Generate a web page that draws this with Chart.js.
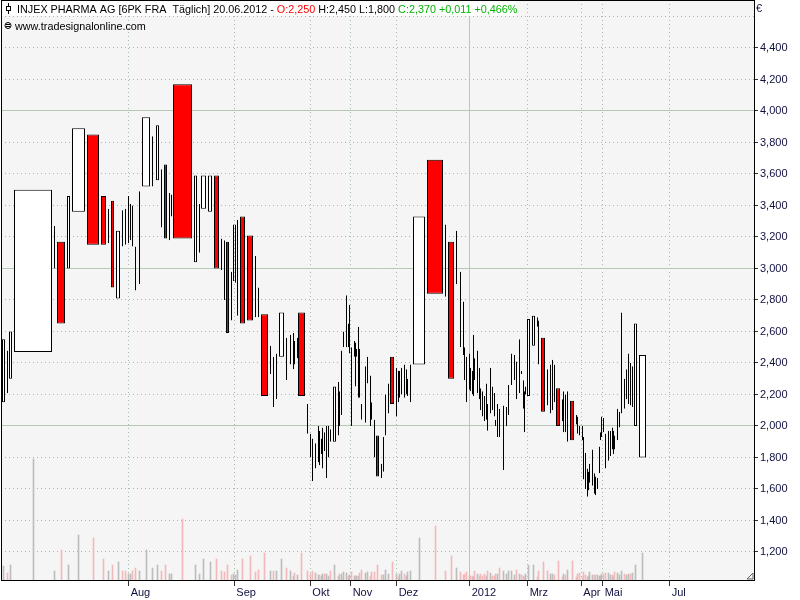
<!DOCTYPE html>
<html><head><meta charset="utf-8">
<script src="https://cdn.jsdelivr.net/npm/chart.js@4/dist/chart.umd.min.js"></script>
<style>html,body{margin:0;padding:0;background:#fff}canvas{display:block}</style>
</head><body>
<canvas id="c" width="800" height="600"></canvas>
<script>
// Equivolume candles: box spans low..high, width follows volume
const highs = [
2.55,2.48,2.60,3.50,3.27,3.17,3.46,3.89,3.85,3.46,
3.38,3.43,3.24,3.37,3.38,3.46,3.41,3.40,3.14,3.49,
3.96,3.84,3.91,3.63,3.66,3.48,3.47,4.17,3.59,3.41,
3.59,3.59,3.59,3.19,3.18,3.17,2.98,3.28,3.28,3.31,
3.33,3.21,3.08,2.88,2.71,2.51,2.44,2.46,2.72,2.56,
2.58,2.59,2.54,2.56,2.72,2.14,1.95,1.92,1.89,2.00,
1.97,1.92,1.99,1.96,2.00,2.00,1.98,2.25,2.28,2.22,
2.48,2.60,2.83,2.65,2.77,2.50,2.54,2.53,2.49,2.63,
2.49,2.14,2.38,2.44,2.32,2.15,2.04,1.94,1.76,1.93,
2.20,2.27,2.44,2.37,2.35,2.35,2.37,2.39,2.36,2.30,
2.39,3.33,3.69,3.28,3.17,3.24,2.98,2.79,2.50,2.44,
2.46,2.37,2.35,2.58,2.43,2.48,2.37,2.24,2.22,2.19,
2.27,2.14,2.37,2.25,2.21,2.04,2.14,2.11,2.13,2.12,
2.26,2.46,2.45,2.41,2.55,2.35,2.29,2.22,2.25,2.68,
2.70,2.69,2.67,2.56,2.36,2.39,2.42,2.39,2.24,2.17,
2.22,2.20,2.22,2.16,2.07,2.06,2.00,2.00,1.93,1.83,
1.73,1.71,1.76,1.85,1.70,1.68,1.67,1.87,1.96,2.06,
2.05,1.95,1.97,1.97,1.99,1.97,1.94,2.11,2.09,2.72,
2.30,2.36,2.46,2.40,2.38,2.65,2.45];
const lows = [
2.15,2.21,2.30,2.47,3.00,2.65,3.00,3.36,3.15,3.15,
3.16,2.88,2.81,3.14,3.15,3.16,3.18,3.14,2.86,2.90,
3.52,3.52,3.56,3.26,3.19,3.18,3.33,3.19,3.04,3.10,
3.38,3.36,3.00,2.99,2.80,2.59,2.67,2.92,2.91,2.70,
2.65,2.67,2.69,2.69,2.19,2.33,2.12,2.17,2.44,2.29,
2.39,2.36,2.39,2.43,2.19,1.95,1.80,1.65,1.73,1.77,
1.75,1.82,1.73,1.84,1.67,1.80,1.90,1.90,1.94,2.00,
2.07,2.50,2.50,2.50,2.46,2.00,2.44,2.25,2.44,2.18,
2.18,2.04,2.02,2.27,2.00,2.04,1.80,1.68,1.67,1.71,
1.94,2.08,2.14,2.06,2.15,2.18,2.20,2.18,2.20,2.19,
2.15,2.39,2.84,2.82,2.30,2.90,2.50,2.45,2.29,2.15,
2.23,2.22,2.20,2.19,2.29,2.21,2.17,2.10,2.06,2.03,
2.04,1.97,2.08,2.10,2.06,2.00,1.93,1.93,1.72,2.00,
2.07,2.26,2.29,2.17,2.21,2.33,2.11,1.96,2.20,2.19,
2.51,2.63,2.39,2.09,2.13,2.08,2.10,2.15,2.00,2.03,
1.96,1.96,1.90,1.91,2.01,1.95,1.94,1.91,1.66,1.60,
1.55,1.59,1.64,1.62,1.57,1.56,1.60,1.70,1.91,1.93,
1.96,1.73,1.78,1.81,1.85,1.82,1.85,1.91,1.99,2.08,
2.11,2.17,2.14,2.13,2.12,2.00,1.80];
const volumes = [
14,7,15,121,9,30,15,45,42,21,
9,15,18,9,9,6,6,9,12,9,
30,12,15,9,15,6,6,61,15,6,
21,18,21,9,8,15,5,6,5,10,
21,24,8,10,27,9,9,9,21,12,
9,4,7,5,27,9,6,9,7,5,
5,4,6,6,6,4,9,15,4,6,
6,8,7,4,5,8,4,4,4,4,
7,10,7,8,4,8,8,15,5,5,
10,6,18,6,3,6,9,6,4,8,
9,42,54,9,24,12,8,5,6,8,
4,4,4,3,9,6,4,6,4,6,
4,9,7,4,4,6,6,12,9,6,
9,9,5,10,6,5,4,3,6,15,
15,3,9,18,9,6,6,5,19,3,
6,5,10,19,3,6,7,3,8,5,
3,4,8,5,5,5,5,4,4,6,
6,7,7,5,5,3,8,7,5,9,
6,5,6,6,7,15,27];
// u = close above open (white), d = close below open (red)
const moves = [
'u','d','u','u','u','d','u','u','d','d',
'u','d','u','d','d','u','u','d','d','u',
'u','u','u','d','d','u','u','d','u','u',
'u','u','d','d','d','d','d','u','u','u',
'd','d','d','d','d','u','d','u','u','d',
'u','u','d','u','d','d','d','d','u','u',
'd','u','u','d','u','u','d','u','u','d',
'u','u','u','d','u','d','u','d','u','u',
'd','d','u','u','d','d','d','d','d','u',
'u','u','d','u','d','u','u','d','u','u',
'u','u','d','d','d','u','d','d','d','d',
'u','d','d','u','d','u','d','d','d','d',
'u','d','u','d','d','d','u','d','u','u',
'u','u','u','d','u','d','d','d','u','u',
'u','d','d','d','d','u','u','d','d','d',
'u','d','u','d','d','d','d','d','d','d',
'd','u','u','u','d','d','u','u','u','u',
'd','d','u','u','d','u','d','u','u','u',
'd','u','u','d','u','u','u'];
const priceTicks = [1.2,1.4,1.6,1.8,2.0,2.2,2.4,2.6,2.8,3.0,3.2,3.4,3.6,3.8,4.0,4.2,4.4,4.6];
const majorTicks = [2.0,3.0,4.0];
const monthLabels = ['Aug','Sep','Okt','Nov','Dez','2012','Mrz','Apr','Mai','Jul'];
const monthPositions = [380,697,925,1046,1184,1403,1577,1738,1802,2003];
const yearTick = '2012';

const GAP = 6; // space between boxes, volume units
const starts = [];
let acc = 0;
volumes.forEach(v => { starts.push(acc); acc += v; });
const bodies = volumes.map(v => Math.max(v - GAP, 0));
const centers = starts.map((s, i) => s + bodies[i] / 2);

const candleData = highs.map((h, i) => ({x: centers[i], y: [lows[i], h]}));
const volumeData = volumes.map((v, i) => ({x: centers[i], y: v}));

const FONT = '"Liberation Sans", Arial, sans-serif';
const isMajor = v => majorTicks.some(m => Math.abs(m - v) < 1e-6);

const equivolume = {
  id: 'equivolume',
  afterDatasetUpdate(chart, args) {
    const xs = chart.scales.x;
    if (args.index === 1) {
      args.meta.data.forEach((el, i) => {
        const l = Math.round(xs.getPixelForValue(starts[i]));
        let r = Math.round(xs.getPixelForValue(starts[i] + bodies[i]));
        if (r - l <= 2) r = l + 1;
        el.x = (l + r) / 2;
        el.width = r - l;
      });
    } else if (args.index === 0) {
      args.meta.data.forEach((el, i) => {
        const l = Math.round(xs.getPixelForValue(starts[i]));
        let r = Math.round(xs.getPixelForValue(starts[i] + bodies[i]));
        if (r - l <= 2) r = l + 1;
        el.x = Math.floor((l + r) / 2) + 0.5;
        el.width = 1;
      });
    }
  }
};

const frame = {
  id: 'frame',
  beforeDraw(chart) {
    const {ctx, chartArea: a} = chart;
    ctx.save();
    ctx.fillStyle = '#ffffff';
    ctx.fillRect(0, 0, chart.width, chart.height);
    ctx.fillStyle = '#f5f5f5';
    ctx.fillRect(a.left, a.top, a.right - a.left, a.bottom - a.top);
    ctx.restore();
  },
  afterDraw(chart) {
    const {ctx, chartArea: a} = chart;
    ctx.save();
    // header band
    ctx.fillStyle = '#ffffff';
    ctx.fillRect(2, 1, 514, 15);
    ctx.strokeStyle = '#000';
    ctx.lineWidth = 1;
    ctx.beginPath();
    ctx.moveTo(8.5, 3); ctx.lineTo(8.5, 14);
    ctx.stroke();
    ctx.fillStyle = '#fff';
    ctx.fillRect(6.5, 6.5, 4, 4);
    ctx.strokeRect(6.5, 6.5, 4, 4);
    ctx.font = '10.8px ' + FONT;
    ctx.textBaseline = 'alphabetic';
    const parts = [
      ['INJEX PHARMA AG [6PK FRA  Täglich] 20.06.2012 - ', '#000000'],
      ['O:2,250', '#ff0000'],
      [' H:2,450 L:1,800 ', '#000000'],
      ['C:2,370 +0,011 +0,466%', '#00b400']
    ];
    let x = 17;
    parts.forEach(([t, c]) => {
      ctx.fillStyle = c;
      ctx.fillText(t, x, 12.5);
      x += ctx.measureText(t).width;
    });
    // second line
    ctx.beginPath();
    ctx.arc(8, 25.5, 3, 0, Math.PI * 2);
    ctx.strokeStyle = '#000';
    ctx.stroke();
    ctx.beginPath();
    ctx.moveTo(6, 24.5); ctx.lineTo(10, 24.5);
    ctx.moveTo(6, 26.5); ctx.lineTo(10, 26.5);
    ctx.stroke();
    ctx.fillStyle = '#000';
    ctx.fillText('www.tradesignalonline.com', 15, 30);
    // currency
    ctx.font = '11px ' + FONT;
    ctx.fillStyle = '#101040';
    ctx.fillText('€', 756, 12);
    // plot frame
    ctx.strokeStyle = '#000';
    ctx.strokeRect(a.left + 0.5, a.top + 0.5, a.right - a.left, a.bottom - a.top);
    // corner grip
    ctx.strokeStyle = '#666';
    ctx.beginPath();
    ctx.moveTo(a.right - 7, a.bottom - 1); ctx.lineTo(a.right - 1, a.bottom - 7);
    ctx.lineTo(a.right - 1, a.bottom - 1); ctx.closePath();
    ctx.stroke();
    ctx.restore();
  }
};

new Chart(document.getElementById('c'), {
  type: 'bar',
  data: {
    datasets: [
      {
        label: 'Volumen',
        data: volumeData,
        yAxisID: 'yv',
        grouped: false,
        barThickness: 1,
        backgroundColor: moves.map(m => m === 'u' ? '#bdbdbd' : '#f1b9b9'),
        borderWidth: 0,
        order: 2
      },
      {
        label: 'INJEX PHARMA AG',
        data: candleData,
        yAxisID: 'y',
        grouped: false,
        backgroundColor: moves.map(m => m === 'u' ? '#ffffff' : '#ff0000'),
        borderColor: '#000000',
        borderWidth: 1,
        borderSkipped: false,
        order: 1
      }
    ]
  },
  options: {
    responsive: false,
    animation: false,
    devicePixelRatio: 1,
    layout: {padding: {left: 1, top: 0, right: 0, bottom: 0}},
    plugins: {legend: {display: false}, tooltip: {enabled: false}},
    scales: {
      x: {
        type: 'linear', position: 'bottom', offset: false,
        min: -3, max: 2256,
        afterBuildTicks: s => { s.ticks = monthPositions.map(v => ({value: v})); },
        afterFit: s => { s.height = 20; s.paddingLeft = 0; s.paddingRight = 0; },
        ticks: {
          autoSkip: false, maxRotation: 0, minRotation: 0, align: 'start', labelOffset: 2, padding: 0,
          color: '#101040', font: {family: FONT, size: 11},
          callback: (v, i) => monthLabels[i]
        },
        grid: {
          offset: false,
          color: c => (c.tick && monthLabels[c.index] === yearTick) ? '#b6c8b6' : '#9fc19f',
          lineWidth: 1, drawTicks: true, tickLength: 6, tickColor: '#333', tickWidth: 1
        },
        border: {display: false, dash: c => (c.tick && monthLabels[c.index] === yearTick) ? [] : [1, 3]}
      },
      y: {
        type: 'linear', position: 'right',
        min: 1.02222, max: 4.70476,
        afterBuildTicks: s => { s.ticks = priceTicks.map(v => ({value: v})); },
        afterFit: s => { s.width = 46; s.paddingTop = 0; s.paddingBottom = 0; },
        ticks: {
          padding: 2, color: '#101040', font: {family: FONT, size: 11},
          callback: v => v > 4.5 ? '' : v.toFixed(3).replace('.', ',')
        },
        grid: {
          offset: false,
          color: c => (c.tick && isMajor(c.tick.value)) ? '#b6c8b6' : '#a9b5a9',
          lineWidth: 1, drawTicks: true, tickLength: 4,
          tickColor: c => (c.tick && c.tick.value > 4.5) ? 'rgba(0,0,0,0)' : '#333'
        },
        border: {display: false, dash: c => (c.tick && isMajor(c.tick.value)) ? [] : [1, 3]}
      },
      yv: {
        type: 'linear', display: false, min: 0, max: 580
      }
    }
  },
  plugins: [equivolume, frame]
});
</script>
</body></html>
